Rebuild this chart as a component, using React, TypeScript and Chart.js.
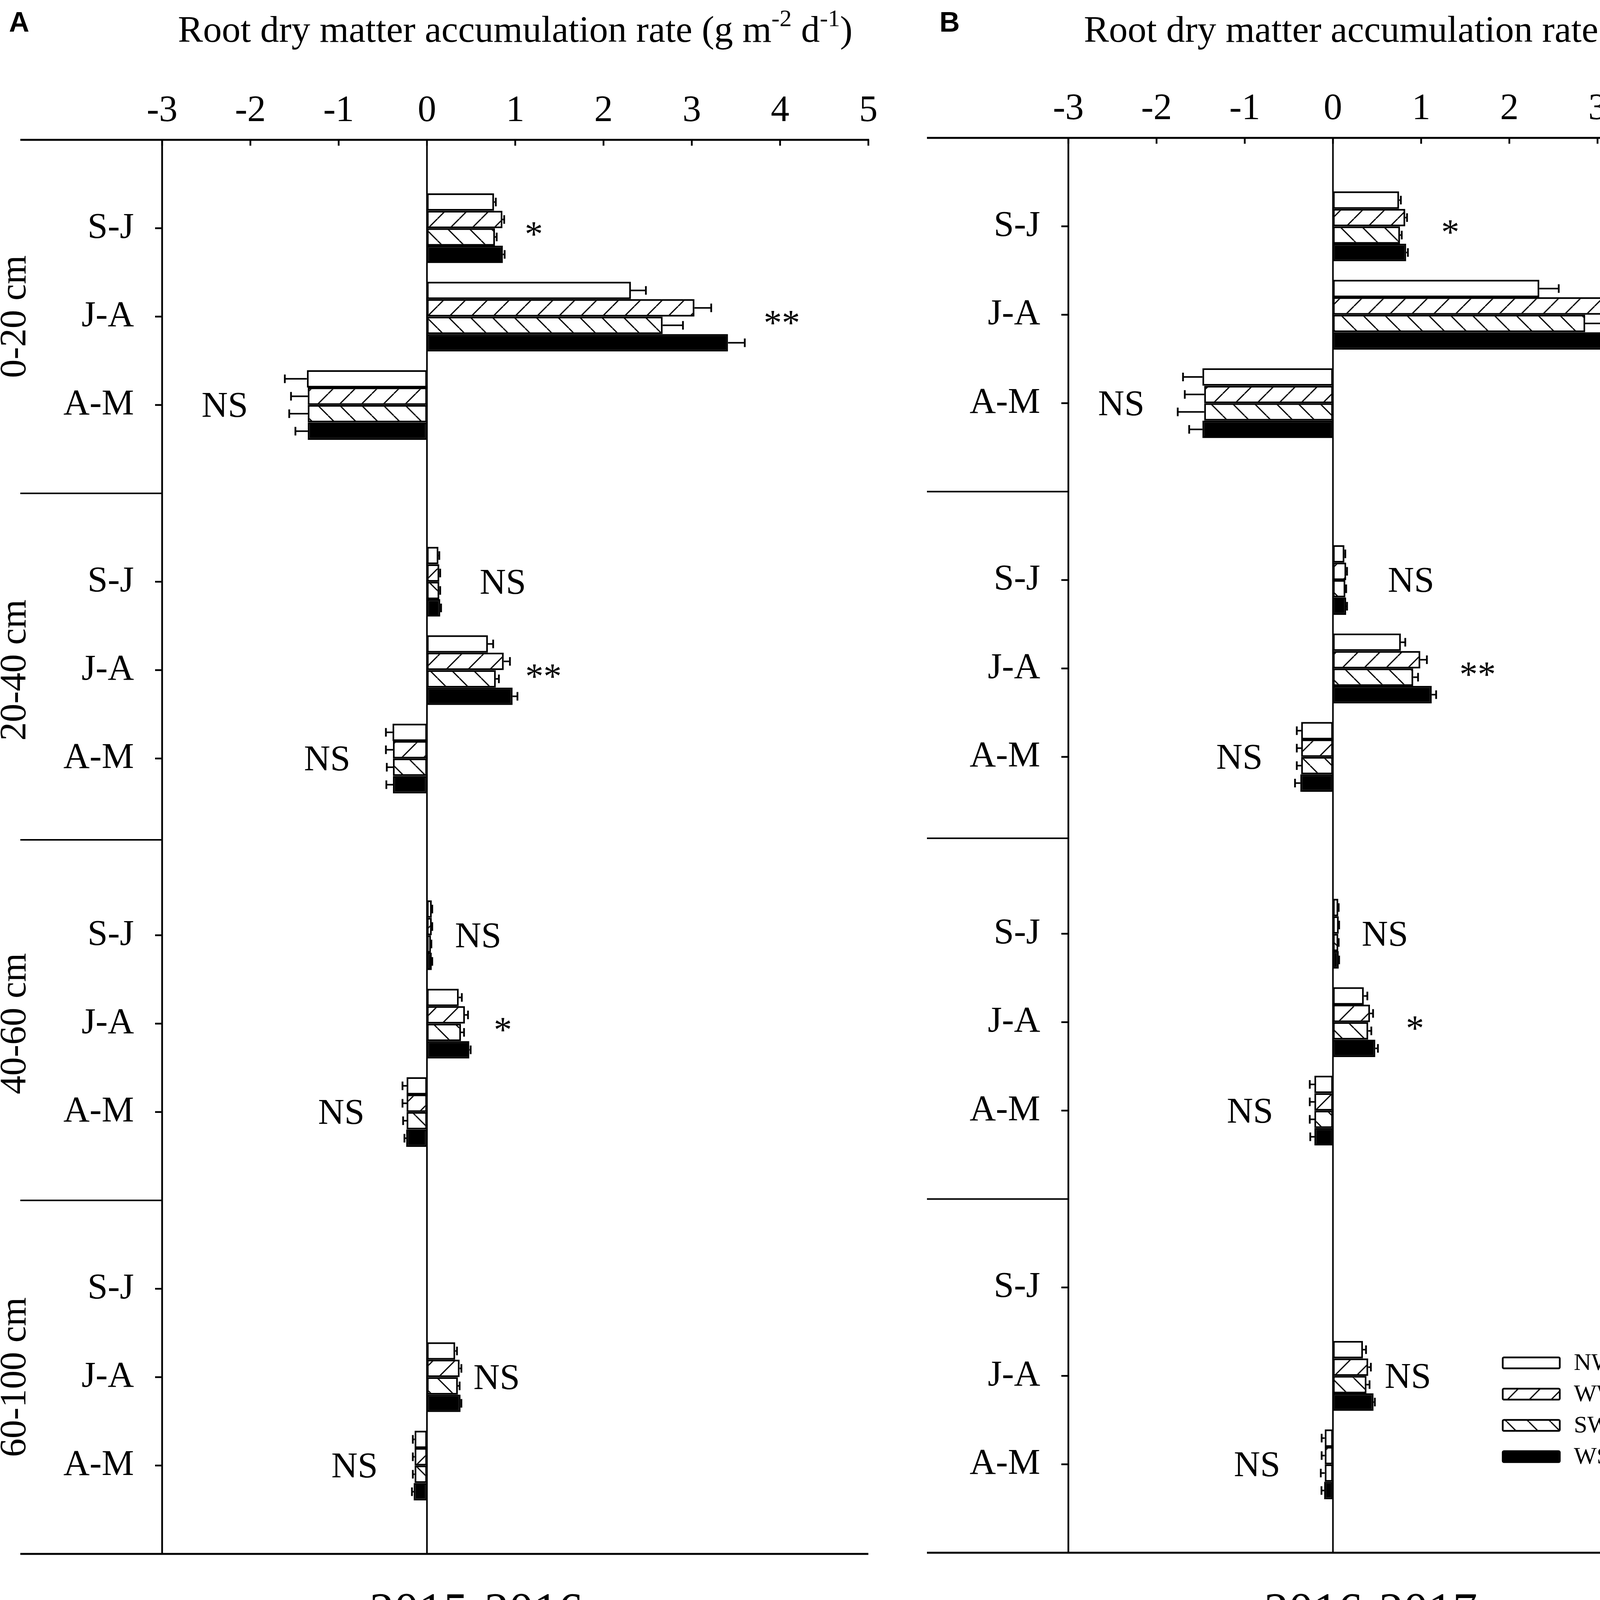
import React, { useEffect, useRef } from 'react';
import { Chart, registerables } from 'chart.js';

Chart.register(...registerables);

const SERIF = '"Liberation Serif", "Times New Roman", serif';
const SANS = '"Liberation Sans", Arial, sans-serif';

const periods = ['S-J', 'J-A', 'A-M'];
const depths = ['0-20 cm', '20-40 cm', '40-60 cm', '60-100 cm'];
const treatments = ['NW', 'WW', 'SW', 'WSW'];
const xTicks = [-3, -2, -1, 0, 1, 2, 3, 4, 5];
const years = ['2015-2016', '2016-2017'];

// values listed depth by depth: S-J, J-A, A-M
const nw2015 = [0.76, 2.31, -1.36, 0.13, 0.69, -0.39, 0.055, 0.36, -0.23, 0, 0.32, -0.14];
const ww2015 = [0.855, 3.03, -1.35, 0.14, 0.87, -0.385, 0.055, 0.43, -0.23, 0, 0.37, -0.14];
const sw2015 = [0.77, 2.67, -1.35, 0.14, 0.78, -0.385, 0.045, 0.385, -0.23, 0, 0.35, -0.14];
const wsw2015 = [0.86, 3.41, -1.35, 0.15, 0.97, -0.385, 0.055, 0.48, -0.235, 0, 0.38, -0.15];

const nwErr2015 = [0.02, 0.17, 0.25, 0.01, 0.06, 0.075, 0.005, 0.035, 0.047, 0, 0.02, 0.02];
const wwErr2015 = [0.02, 0.19, 0.19, 0.01, 0.07, 0.08, 0.005, 0.035, 0.047, 0, 0.02, 0.02];
const swErr2015 = [0.02, 0.23, 0.21, 0.01, 0.035, 0.07, 0.005, 0.035, 0.04, 0, 0.02, 0.02];
const wswErr2015 = [0.02, 0.19, 0.14, 0.01, 0.055, 0.075, 0.005, 0.015, 0.02, 0, 0.01, 0.02];

const nw2016 = [0.75, 2.34, -1.48, 0.13, 0.77, -0.36, 0.06, 0.35, -0.21, 0, 0.34, -0.093];
const ww2016 = [0.82, 3.15, -1.46, 0.15, 0.99, -0.36, 0.065, 0.42, -0.21, 0, 0.4, -0.093];
const sw2016 = [0.76, 2.86, -1.46, 0.14, 0.91, -0.36, 0.06, 0.4, -0.21, 0, 0.38, -0.093];
const wsw2016 = [0.83, 3.63, -1.48, 0.15, 1.12, -0.37, 0.065, 0.48, -0.21, 0, 0.46, -0.1];

const nwErr2016 = [0.02, 0.22, 0.22, 0.01, 0.05, 0.05, 0.005, 0.04, 0.053, 0, 0.035, 0.035];
const wwErr2016 = [0.02, 0.28, 0.22, 0.01, 0.075, 0.05, 0.005, 0.035, 0.053, 0, 0.03, 0.035];
const swErr2016 = [0.02, 0.24, 0.3, 0.01, 0.055, 0.05, 0.005, 0.035, 0.053, 0, 0.035, 0.045];
const wswErr2016 = [0.02, 0.2, 0.15, 0.01, 0.05, 0.06, 0.005, 0.03, 0.047, 0, 0.015, 0.03];

// significance marks and where they sit on the value axis
const marks2015 = ['*', '**', 'NS', 'NS', '**', 'NS', 'NS', '*', 'NS', '', 'NS', 'NS'];
const markX2015 = [1.21, 4.02, -2.29, 0.86, 1.32, -1.13, 0.58, 0.86, -0.97, 0, 0.79, -0.82];
const marks2016 = ['*', '**', 'NS', 'NS', '**', 'NS', 'NS', '*', 'NS', '', 'NS', 'NS'];
const markX2016 = [1.33, 3.97, -2.4, 0.885, 1.64, -1.06, 0.59, 0.93, -0.94, 0, 0.85, -0.86];

// depth separators on the row axis
const separatorRows = [4, 7.92, 12];

const ROWS = depths.length * 4 + 1;
const rowIndex = (i: number) => Math.floor(i / 3) * 4 + (i % 3) + 1;
const rowLabels: string[] = Array.from({ length: ROWS }, () => '');
depths.forEach((_, d) => periods.forEach((p, k) => { rowLabels[rowIndex(d * 3 + k)] = p; }));

function toRows(vals: number[]): (number | null)[] {
  const out: (number | null)[] = Array.from({ length: ROWS }, () => null);
  vals.forEach((v, i) => { out[rowIndex(i)] = v; });
  return out;
}

function makeHatch(forward: boolean): CanvasPattern | string {
  const s = 56;
  const c = document.createElement('canvas');
  c.width = s;
  c.height = s;
  const g = c.getContext('2d');
  if (!g) return '#fff';
  g.fillStyle = '#fff';
  g.fillRect(0, 0, s, s);
  g.strokeStyle = '#000';
  g.lineWidth = 3.2;
  g.beginPath();
  for (let k = -1; k <= 1; k++) {
    if (forward) {
      g.moveTo(k * s, s);
      g.lineTo(k * s + s, 0);
    } else {
      g.moveTo(k * s, 0);
      g.lineTo(k * s + s, s);
    }
  }
  g.stroke();
  return g.createPattern(c, 'repeat') || '#fff';
}

interface Panel {
  left: number;
  width: number;
  yAxisWidth: number;
  padRight: number;
  top: number;
  bottom: number;
  lineStart: number;
  letter: string;
  letterX: number;
  yearX: number;
  showDepths: boolean;
  showLegend: boolean;
}

const H = 4181;
const panels: Panel[] = [
  { left: 0, width: 2290, yAxisWidth: 415, padRight: 67, top: 358, bottom: 3978, lineStart: 52, letter: 'A', letterX: 23, yearX: 1219, showDepths: true, showLegend: false },
  { left: 2290, width: 2283, yAxisWidth: 445, padRight: 30, top: 353, bottom: 3975, lineStart: 83, letter: 'B', letterX: 115, yearX: 1219, showDepths: false, showLegend: true },
];

function drawTitle(ctx: CanvasRenderingContext2D, cx: number, base: number) {
  const parts: [string, boolean][] = [
    ['Root dry matter accumulation rate (g m', false],
    ['-2', true],
    [' d', false],
    ['-1', true],
    [')', false],
  ];
  const big = `96px ${SERIF}`;
  const small = `62px ${SERIF}`;
  let w = 0;
  parts.forEach(([t, sup]) => { ctx.font = sup ? small : big; w += ctx.measureText(t).width; });
  let x = cx - w / 2;
  ctx.textAlign = 'left';
  ctx.textBaseline = 'alphabetic';
  parts.forEach(([t, sup]) => {
    ctx.font = sup ? small : big;
    ctx.fillText(t, x, sup ? base - 40 : base);
    x += ctx.measureText(t).width;
  });
}

function makeDecor(p: Panel, year: string, errs: number[][], marks: string[], markX: number[], fills: (CanvasPattern | string)[]) {
  return {
    id: 'decor',
    afterDatasetsDraw(chart: any) {
      const { ctx, chartArea: a } = chart;
      const xs = chart.scales.x;
      const ys = chart.scales.y;
      const line = (x1: number, y1: number, x2: number, y2: number, w: number) => {
        ctx.lineWidth = w;
        ctx.beginPath();
        ctx.moveTo(x1, y1);
        ctx.lineTo(x2, y2);
        ctx.stroke();
      };
      ctx.save();
      ctx.strokeStyle = '#000';
      ctx.fillStyle = '#000';

      // error bars
      treatments.forEach((_, di) => {
        const meta = chart.getDatasetMeta(di);
        const vals = chart.data.datasets[di].data as (number | null)[];
        const e = toRows(errs[di]);
        meta.data.forEach((el: any, j: number) => {
          const v = vals[j];
          const err = e[j];
          if (v === null || v === 0 || !err) return;
          const end = xs.getPixelForValue(v + Math.sign(v) * err);
          line(el.x, el.y, end, el.y, 4);
          line(end, el.y - 11, end, el.y + 11, 4.5);
        });
      });

      // frame
      line(p.lineStart, a.top, a.right + 2, a.top, 5);
      line(p.lineStart, a.bottom, a.right, a.bottom, 5);
      line(a.left, a.top, a.left, a.bottom, 4.5);
      const x0 = xs.getPixelForValue(0);
      line(x0, a.top, x0, a.bottom, 4);
      separatorRows.forEach(r => {
        const yy = ys.getPixelForValue(r);
        line(p.lineStart, yy, a.left, yy, 4);
      });
      xTicks.forEach(v => {
        const px = xs.getPixelForValue(v);
        line(px, a.top, px, a.top + 15, 4.5);
      });
      rowLabels.forEach((l, i) => {
        if (!l) return;
        const yy = ys.getPixelForValue(i);
        line(a.left - 18, yy, a.left, yy, 4.5);
      });

      // significance marks
      ctx.font = `93px ${SERIF}`;
      ctx.textAlign = 'center';
      marks.forEach((m, i) => {
        if (!m) return;
        const cx = xs.getPixelForValue(markX[i]);
        const cy = ys.getPixelForValue(rowIndex(i));
        if (m.startsWith('*')) {
          ctx.textBaseline = 'alphabetic';
          ctx.fillText(m, cx, cy + 46);
        } else {
          ctx.textBaseline = 'middle';
          ctx.fillText(m, cx, cy + 6);
        }
      });

      // depth labels
      if (p.showDepths) {
        ctx.font = `95px ${SERIF}`;
        ctx.textAlign = 'center';
        ctx.textBaseline = 'middle';
        depths.forEach((d, k) => {
          const cy = ys.getPixelForValue(k * 4 + 2);
          ctx.save();
          ctx.translate(40, cy);
          ctx.rotate(-Math.PI / 2);
          ctx.fillText(d, 0, 0);
          ctx.restore();
        });
      }

      // legend
      if (p.showLegend) {
        treatments.forEach((t, i) => {
          const cy = 3489 + i * 80;
          ctx.fillStyle = fills[i];
          ctx.beginPath();
          ctx.roundRect(1557, cy - 14, 146, 28, 3);
          ctx.fill();
          ctx.lineWidth = 4.5;
          ctx.stroke();
          ctx.fillStyle = '#000';
          ctx.font = `62px ${SERIF}`;
          ctx.textAlign = 'left';
          ctx.textBaseline = 'middle';
          ctx.fillText(t, 1739, cy + 2);
        });
      }

      // titles
      ctx.fillStyle = '#000';
      drawTitle(ctx, (a.left + a.right) / 2, 107);
      ctx.font = `bold 72px ${SANS}`;
      ctx.textAlign = 'left';
      ctx.textBaseline = 'alphabetic';
      ctx.fillText(p.letter, p.letterX, 81);
      ctx.font = `126px ${SERIF}`;
      ctx.textAlign = 'center';
      ctx.fillText(year, p.yearX, 4165);
      ctx.restore();
    },
  };
}

function buildChart(canvas: HTMLCanvasElement, p: Panel, year: string, series: number[][], errs: number[][], marks: string[], markX: number[]) {
  const fills = [ '#ffffff', makeHatch(true), makeHatch(false), '#000000' ];
  return new Chart(canvas, {
    type: 'bar',
    data: {
      labels: rowLabels,
      datasets: treatments.map((t, i) => ({
        label: t,
        data: toRows(series[i]),
        backgroundColor: fills[i] as any,
        borderColor: '#000',
        borderWidth: (c: any) => (c.raw === 0 ? 0 : 4.5),
        borderSkipped: false,
        categoryPercentage: 0.79,
        barPercentage: 1.0,
      })),
    },
    options: {
      indexAxis: 'y',
      responsive: false,
      animation: false,
      events: [],
      layout: { padding: { left: 0, right: p.padRight, top: 150, bottom: H - p.bottom } },
      plugins: { legend: { display: false }, tooltip: { enabled: false }, title: { display: false } },
      scales: {
        x: {
          type: 'linear',
          position: 'top',
          min: -3,
          max: 5,
          grid: { display: false },
          border: { display: false },
          ticks: {
            stepSize: 1,
            color: '#000',
            padding: 8,
            maxRotation: 0,
            font: { family: SERIF, size: 95 },
            callback: (v: any) => String(v),
          },
          afterFit: (s: any) => { s.height = p.top - 150; },
        },
        y: {
          type: 'category',
          offset: false,
          grid: { display: false },
          border: { display: false },
          ticks: {
            autoSkip: false,
            color: '#000',
            padding: 64,
            font: { family: SERIF, size: 93 },
          },
          afterFit: (s: any) => { s.width = p.yAxisWidth; },
        },
      },
    },
    plugins: [makeDecor(p, year, errs, marks, markX, fills)],
  } as any);
}

export default function App() {
  const refA = useRef<HTMLCanvasElement>(null);
  const refB = useRef<HTMLCanvasElement>(null);

  useEffect(() => {
    const charts: Chart[] = [];
    if (refA.current) {
      charts.push(buildChart(refA.current, panels[0], years[0],
        [nw2015, ww2015, sw2015, wsw2015],
        [nwErr2015, wwErr2015, swErr2015, wswErr2015],
        marks2015, markX2015));
    }
    if (refB.current) {
      charts.push(buildChart(refB.current, panels[1], years[1],
        [nw2016, ww2016, sw2016, wsw2016],
        [nwErr2016, wwErr2016, swErr2016, wswErr2016],
        marks2016, markX2016));
    }
    return () => charts.forEach(c => c.destroy());
  }, []);

  return (
    <div style={{ position: 'absolute', left: 0, top: 0, width: 4573, height: H, background: '#fff', overflow: 'hidden' }}>
      <canvas ref={refA} width={panels[0].width} height={H}
        style={{ position: 'absolute', left: panels[0].left, top: 0, width: panels[0].width, height: H }} />
      <canvas ref={refB} width={panels[1].width} height={H}
        style={{ position: 'absolute', left: panels[1].left, top: 0, width: panels[1].width, height: H }} />
    </div>
  );
}
